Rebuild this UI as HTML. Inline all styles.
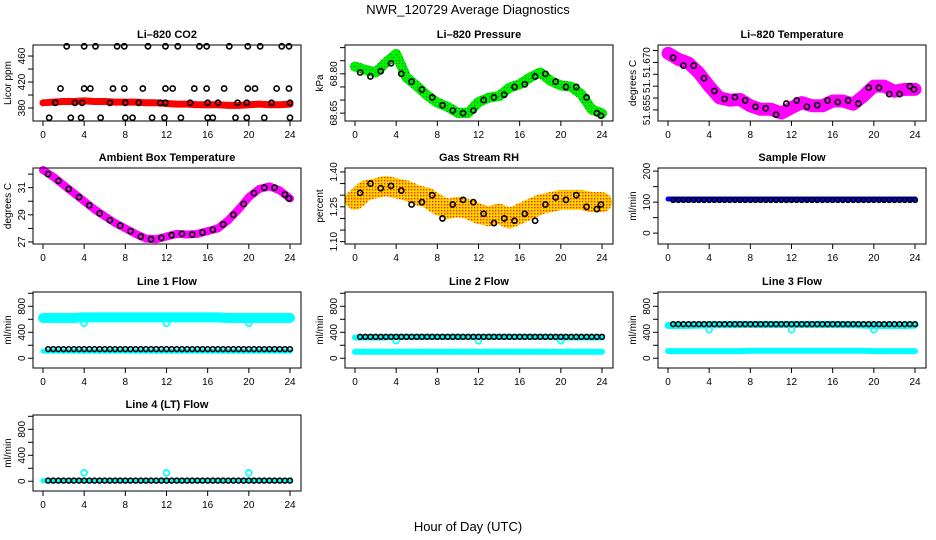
<!DOCTYPE html>
<html><head><meta charset="utf-8"><style>
body{margin:0;background:#fff}
svg{display:block;font-family:"Liberation Sans",Arial,sans-serif}
</style></head><body>
<svg id="c" width="936" height="540" viewBox="0 0 936 540">
<defs>
<pattern id="rhpat" width="3" height="3" patternUnits="userSpaceOnUse"><rect width="3" height="3" fill="#ffd700"/><rect width="1.4" height="1.4" fill="#ff2000"/></pattern>
<pattern id="grpat" width="3" height="3" patternUnits="userSpaceOnUse"><rect width="3" height="3" fill="#00ee00"/><rect width="1" height="1" fill="#008000"/></pattern>
</defs>
<text x="468" y="14" text-anchor="middle" font-size="13">NWR_120729  Average Diagnostics</text>
<text x="468" y="531" text-anchor="middle" font-size="13">Hour of Day (UTC)</text>
</svg>
<script>
const HOURS=[0,1,2,3,4,5,6,7,8,9,10,11,12,13,14,15,16,17,18,19,20,21,22,23,24];
const HALF_T=[0.5,1,1.5,2,2.5,3,3.5,4,4.5,5,5.5,6,6.5,7,7.5,8,8.5,9,9.5,10,10.5,11,11.5,12,12.5,13,13.5,14,14.5,15,15.5,16,16.5,17,17.5,18,18.5,19,19.5,20,20.5,21,21.5,22,22.5,23,23.5,24];
const MID_T=[0.5,1.5,2.5,3.5,4.5,5.5,6.5,7.5,8.5,9.5,10.5,11.5,12.5,13.5,14.5,15.5,16.5,17.5,18.5,19.5,20.5,21.5,22.5,23.5,23.9];
const X_TICKS=[0,4,8,12,16,20,24];

const co2Red=[388,389,390,390,391,390,390,389,389,389,388,388,387,386,386,385,385,385,384,384,385,386,385,385,386];
const co2BlackT=[2.3,4.0,5.1,7.2,7.9,10.2,11.9,13.1,15.2,15.9,18.1,19.9,21.1,23.2,23.9, 1.7,4.0,4.6,6.8,7.9,9.7,11.9,12.6,14.7,15.9,17.6,19.9,20.6,22.7,23.9, 1.2,3.1,3.8,6.5,8.0,9.3,11.4,11.9,14.3,16.0,17.0,18.9,19.8,22.2,24.0, 0.6,2.7,3.7,5.6,8.0,8.7,10.6,11.8,13.4,16.0,16.5,18.7,19.8,21.5,24.0];
const co2BlackV=[475,475,475,475,475,475,475,475,475,475,475,475,475,475,475, 410,410,410,410,410,410,410,410,410,410,410,410,410,410,410, 388,388,388,388,388,388,388,388,388,388,388,388,388,388,388, 365,365,365,365,365,365,365,365,365,365,365,365,365,365,365];
const presGreen=[68.828,68.815,68.805,68.843,68.876,68.786,68.754,68.718,68.69,68.674,68.651,68.651,68.692,68.709,68.715,68.747,68.76,68.786,68.805,68.773,68.756,68.751,68.722,68.664,68.649];
const presBlack=[68.805,68.79,68.81,68.84,68.80,68.77,68.74,68.71,68.68,68.66,68.65,68.66,68.70,68.71,68.72,68.75,68.76,68.79,68.80,68.77,68.75,68.75,68.71,68.65,68.64];
const tempMag=[51.6729,51.671,51.6698,51.6667,51.6625,51.6588,51.6581,51.6583,51.6563,51.6552,51.6552,51.654,51.6557,51.6573,51.6563,51.6563,51.6578,51.6578,51.6568,51.6594,51.6625,51.6625,51.6609,51.6615,51.6615];
const tempBlack=[51.6715,51.669,51.669,51.665,51.661,51.6585,51.659,51.658,51.656,51.6555,51.6535,51.657,51.658,51.656,51.6565,51.658,51.6575,51.658,51.657,51.662,51.662,51.660,51.660,51.6625,51.6615];
const ambMag=[32.3,31.8,31.2,30.6,30.0,29.4,28.9,28.4,28.0,27.6,27.25,27.2,27.4,27.6,27.55,27.6,27.8,28.0,28.6,29.4,30.3,30.9,31.1,30.8,30.2];
const ambBlack=[32.0,31.5,30.9,30.3,29.7,29.1,28.6,28.2,27.8,27.4,27.2,27.3,27.5,27.6,27.55,27.7,27.9,28.3,29.0,29.8,30.6,31.0,31.0,30.5,30.2];
const rhOrange=[1.28,1.32,1.33,1.34,1.33,1.32,1.30,1.29,1.26,1.24,1.25,1.24,1.22,1.21,1.22,1.20,1.22,1.24,1.26,1.27,1.28,1.28,1.28,1.27,1.27];
const rhBlack=[1.31,1.35,1.33,1.34,1.32,1.26,1.27,1.30,1.20,1.26,1.28,1.27,1.22,1.18,1.20,1.19,1.22,1.19,1.26,1.29,1.28,1.30,1.25,1.24,1.26];
const sampleBlue=[110,110,110,110,110,110,110,110,110,110,110,110,110,110,110,110,110,110,110,110,110,110,110,110,110];
const sampleBlackV=HALF_T.map(()=>107);
const line1CyanHi=[620,620,620,620,630,630,630,630,630,630,630,630,630,630,630,630,630,630,620,620,620,620,620,620,620];
const line1CyanLo=[110,110,110,110,110,110,110,110,110,110,110,110,110,110,110,110,110,110,110,110,110,110,110,110,110];
const line1BlackV=HALF_T.map(()=>140);
const line2CyanHi=[320,320,320,320,330,330,330,330,330,330,330,330,330,330,330,330,330,330,330,330,320,320,320,320,320];
const line2CyanLo=[100,100,100,100,100,100,100,100,100,100,100,100,100,100,100,100,100,100,100,100,100,100,100,100,100];
const line2BlackV=HALF_T.map(()=>330);
const line3CyanHi=[505,505,505,510,515,515,515,520,520,520,520,520,520,520,520,520,520,515,515,510,505,505,505,505,510];
const line3CyanLo=[110,110,110,110,110,110,110,110,115,115,115,115,115,115,115,115,115,115,115,115,110,110,110,110,110];
const line3BlackV=HALF_T.map(()=>525);
const line4Cyan=[10,10,10,10,10,10,10,10,10,10,10,10,10,10,10,10,10,10,10,10,10,10,10,10,10];
const line4BlackV=HALF_T.map(()=>10);
const outT=[4,12,20];
const line1Out=[540,540,540], line2Out=[270,270,270], line3Out=[440,440,440], line4Out=[130,130,130];

const NS='http://www.w3.org/2000/svg';
const svg=document.getElementById('c');
function mk(tag,attrs,parent){const e=document.createElementNS(NS,tag);for(const k in attrs)e.setAttribute(k,attrs[k]);(parent||svg).appendChild(e);return e;}
const COLS=[33,345,658], ROWS=[45,168,292,415], W=268, H=76;

function panel(name,col,row,title,ytitle,ymin,ymax,ticks,labels){
  const L=COLS[col],T=ROWS[row];
  const g=mk('g',{});
  
  
  const xs=t=>L+10+t*(W-21)/24;
  const ys=v=>T+H-(v-ymin)/(ymax-ymin)*H;
  const t1=mk('text',{x:L+W/2,y:T-7,'text-anchor':'middle','font-size':11,'font-weight':'bold'},g);t1.textContent=title;
  
  const yt=mk('text',{transform:`translate(${L-22},${T+H/2}) rotate(-90)`,'text-anchor':'middle','font-size':10},g);yt.textContent=ytitle;
  
  X_TICKS.forEach(t=>{mk('line',{x1:xs(t),x2:xs(t),y1:T+H,y2:T+H+5,stroke:'#000'},g);
    const tx=mk('text',{x:xs(t),y:T+H+17,'text-anchor':'middle','font-size':10},g);tx.textContent=t;
    });
  ticks.forEach((v,i)=>{const y=ys(v);mk('line',{x1:L-5,x2:L,y1:y,y2:y,stroke:'#000'},g);
    if(labels[i]){const tl=mk('text',{transform:`translate(${L-8},${y}) rotate(-90)`,'text-anchor':'middle','font-size':10},g);tl.textContent=labels[i];
    }});
  const marks=mk('g',{},g);
  mk('rect',{x:L,y:T,width:W,height:H,fill:'none',stroke:'#000'},g);
  return {g:marks,xs,ys};
}
function band(p,ts,vs,color,w,name){
  const pl=mk('polyline',{points:ts.map((t,i)=>p.xs(t)+','+p.ys(vs[i])).join(' '),fill:'none',stroke:color,'stroke-width':w,'stroke-linejoin':'round','stroke-linecap':'round'},p.g);
  
}
function pts(p,ts,vs,color,r,name){
  ts.forEach((t,i)=>{const c=mk('circle',{cx:p.xs(t),cy:p.ys(vs[i]),r:r,fill:'none',stroke:color,'stroke-width':1.6},p.g);
    });
}
const flowTicks=[0,200,400,600,800,1000], flowLab=['0','','400','','800',''];

let p=panel('panel-co2',0,0,'Li\u2013820 CO2','Licor ppm',360,477,[380,400,420,440,460],['380','','420','','460']);
band(p,HOURS,co2Red,'#ff0000',7,'co2-series');pts(p,HOURS,co2Red,'#ff0000',2.5,'co2-point');pts(p,co2BlackT,co2BlackV,'#000',2.6,'co2-avg-point');

p=panel('panel-pressure',1,0,'Li\u2013820 Pressure','kPa',68.62,68.91,[68.65,68.70,68.75,68.80,68.85,68.90],['68.65','','','68.80','','']);
band(p,HOURS,presGreen,'url(#grpat)',10,'pressure-series');pts(p,HOURS,presGreen,'#00ee00',3,'pressure-point');pts(p,MID_T,presBlack,'#000',2.6,'pressure-avg-point');

p=panel('panel-li820-temp',2,0,'Li\u2013820 Temperature','degrees C',51.6515,51.6755,[51.655,51.65875,51.6625,51.66625,51.670,51.67375],['51.655','','51.','','51.670','']);
band(p,HOURS,tempMag,'#ff00ff',13,'li820-temp-series');pts(p,HOURS,tempMag,'#ff00ff',4,'li820-temp-point');pts(p,MID_T,tempBlack,'#000',2.6,'li820-temp-avg-point');

p=panel('panel-ambient',0,1,'Ambient Box Temperature','degrees C',26.85,32.45,[27,28,29,30,31,32],['27','','29','','31','']);
band(p,HOURS,ambMag,'#ff00ff',8,'ambient-series');pts(p,MID_T,ambBlack,'#000',2.6,'ambient-avg-point');

p=panel('panel-rh',1,1,'Gas Stream RH','percent',1.09,1.417,[1.10,1.15,1.20,1.25,1.30,1.35,1.40],['1.10','','','1.25','','','1.40']);
band(p,HOURS,rhOrange,'url(#rhpat)',20,'rh-series');pts(p,MID_T,rhBlack,'#000',2.6,'rh-avg-point');

p=panel('panel-sample-flow',2,1,'Sample Flow','ml/min',-35,210,[0,50,100,150,200],['0','','100','','200']);
band(p,HOURS,sampleBlue,'#0000ff',5,'sample-flow-series');pts(p,HALF_T,sampleBlackV,'#000',2.4,'sample-flow-avg-point');

p=panel('panel-line1',0,2,'Line 1 Flow','ml/min',-150,1020,flowTicks,flowLab);
band(p,HOURS,line1CyanHi,'#00ffff',10,'line1-series-high');band(p,HOURS,line1CyanLo,'#00ffff',5,'line1-series-low');
pts(p,outT,line1Out,'#00ffff',3,'line1-outlier');pts(p,HALF_T,line1BlackV,'#000',2.4,'line1-avg-point');

p=panel('panel-line2',1,2,'Line 2 Flow','ml/min',-150,1020,flowTicks,flowLab);
band(p,HOURS,line2CyanHi,'#00ffff',6,'line2-series-high');band(p,HOURS,line2CyanLo,'#00ffff',6,'line2-series-low');
pts(p,outT,line2Out,'#00ffff',3,'line2-outlier');pts(p,HALF_T,line2BlackV,'#000',2.4,'line2-avg-point');

p=panel('panel-line3',2,2,'Line 3 Flow','ml/min',-150,1020,flowTicks,flowLab);
band(p,HOURS,line3CyanHi,'#00ffff',7,'line3-series-high');band(p,HOURS,line3CyanLo,'#00ffff',6,'line3-series-low');
pts(p,outT,line3Out,'#00ffff',3,'line3-outlier');pts(p,HALF_T,line3BlackV,'#000',2.4,'line3-avg-point');

p=panel('panel-line4',0,3,'Line 4 (LT) Flow','ml/min',-150,1020,flowTicks,flowLab);
band(p,HOURS,line4Cyan,'#00ffff',5,'line4-series');
pts(p,outT,line4Out,'#00ffff',3,'line4-outlier');pts(p,HALF_T,line4BlackV,'#000',2.4,'line4-avg-point');
</script>
</body></html>
